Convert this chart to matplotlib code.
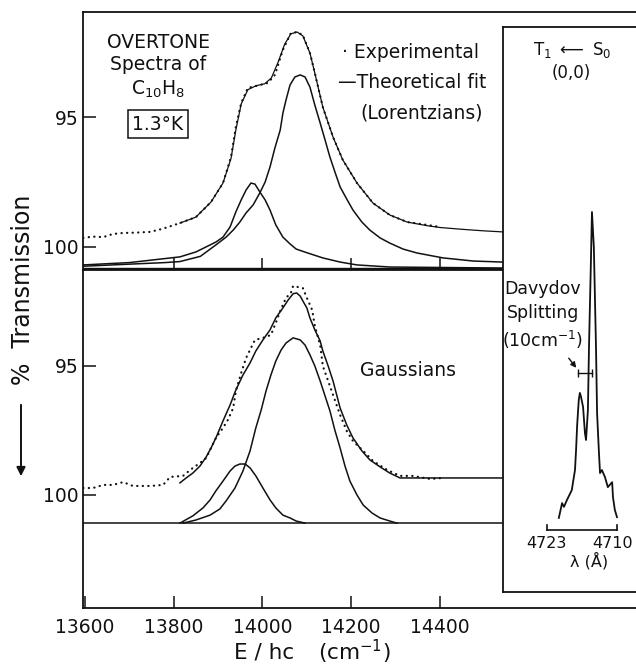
import matplotlib
matplotlib.use("Agg")
import matplotlib.pyplot as plt

plt.rcParams['font.family'] = ['DejaVu Sans']
plt.rcParams['mathtext.fontset'] = 'dejavusans'

INK = '#111111'

# ---------------- data ----------------
# x: E/hc in cm^-1, y: % transmission (axis inverted)
top_exp_x = [13596, 13618, 13641, 13663, 13686, 13710, 13746, 13775, 13814, 13850,
             13884, 13911, 13929, 13940, 13952, 13967, 13994, 14012, 14028, 14046,
             14064, 14078, 14091, 14107, 14118, 14136, 14159, 14181, 14213, 14249,
             14287, 14326, 14371, 14400]
top_exp_y = [99.65, 99.60, 99.62, 99.50, 99.46, 99.45, 99.42, 99.30, 99.08, 98.85,
             98.27, 97.54, 96.54, 95.38, 94.46, 93.88, 93.77, 93.69, 93.38, 92.42,
             91.77, 91.73, 91.85, 92.54, 93.31, 94.62, 95.77, 96.65, 97.54, 98.31,
             98.77, 99.04, 99.15, 99.23]

top_fit_x = [13814, 13850, 13884, 13911, 13929, 13940, 13952, 13967, 13985, 14005,
             14020, 14035, 14050, 14064, 14078, 14091, 14107, 14118, 14136, 14159,
             14181, 14213, 14249, 14287, 14326, 14371, 14400, 14450, 14500, 14542]
top_fit_y = [99.08, 98.85, 98.27, 97.54, 96.60, 95.50, 94.50, 93.95, 93.80, 93.72,
             93.50, 92.90, 92.20, 91.80, 91.73, 91.88, 92.54, 93.31, 94.62, 95.77,
             96.65, 97.54, 98.31, 98.77, 99.04, 99.18, 99.25, 99.32, 99.38, 99.42]

lor_big_x = [13596, 13700, 13780, 13814, 13860, 13895, 13918, 13934, 13949, 13963,
             13979, 13994, 14006, 14017, 14028, 14040, 14046, 14053, 14062, 14073,
             14085, 14096, 14107, 14118, 14130, 14141, 14152, 14164, 14175, 14191,
             14204, 14224, 14242, 14265, 14287, 14317, 14348, 14407, 14475, 14542]
lor_big_y = [100.74, 100.66, 100.60, 100.56, 100.36, 99.92, 99.62, 99.35, 99.04, 98.69,
             98.38, 97.92, 97.50, 96.92, 96.19, 95.50, 94.85, 94.35, 93.77, 93.46,
             93.38, 93.46, 93.85, 94.54, 95.23, 95.88, 96.54, 97.15, 97.69, 98.19,
             98.58, 99.04, 99.35, 99.65, 99.85, 100.08, 100.23, 100.42, 100.54, 100.58]

lor_small_x = [13596, 13700, 13814, 13850, 13882, 13895, 13911, 13927, 13940, 13952,
               13963, 13974, 13983, 13994, 14006, 14017, 14030, 14046, 14062, 14076,
               14100, 14136, 14175, 14213, 14287, 14542]
lor_small_y = [100.69, 100.60, 100.38, 100.19, 99.92, 99.81, 99.62, 99.23, 98.65, 98.19,
               97.81, 97.54, 97.58, 97.88, 98.19, 98.58, 99.15, 99.62, 99.88, 100.08,
               100.22, 100.42, 100.58, 100.69, 100.77, 100.81]
top_baseline = 100.81

bot_exp_x = [13596, 13618, 13641, 13663, 13686, 13708, 13747, 13776, 13792, 13821,
             13837, 13859, 13873, 13895, 13911, 13922, 13934, 13940, 13952, 13963,
             13983, 14001, 14019, 14030, 14040, 14053, 14064, 14069, 14091, 14100,
             14112, 14118, 14130, 14136, 14148, 14159, 14175, 14190, 14204, 14227,
             14249, 14281, 14310, 14339, 14378, 14407]
bot_exp_y = [99.73, 99.73, 99.61, 99.61, 99.50, 99.65, 99.65, 99.61, 99.30, 99.26,
             99.03, 98.76, 98.57, 97.79, 97.40, 97.09, 96.63, 95.97, 95.27, 94.69,
             93.99, 93.91, 93.80, 93.33, 92.87, 92.36, 92.17, 91.90, 91.98, 92.36,
             92.83, 93.45, 94.19, 95.00, 95.58, 96.12, 96.90, 97.52, 97.91, 98.29,
             98.68, 99.03, 99.26, 99.26, 99.38, 99.34]

bot_fit_x = [13814, 13828, 13843, 13859, 13873, 13884, 13895, 13911, 13927, 13940,
             13956, 13972, 13985, 14001, 14017, 14030, 14046, 14058, 14069, 14077,
             14085, 14091, 14100, 14107, 14118, 14130, 14136, 14148, 14159, 14175,
             14190, 14204, 14224, 14242, 14265, 14287, 14310, 14542]
bot_fit_y = [99.53, 99.34, 99.15, 98.88, 98.53, 98.18, 97.79, 97.13, 96.51, 95.93,
             95.35, 94.88, 94.42, 93.99, 93.60, 93.14, 92.75, 92.44, 92.20, 92.17,
             92.29, 92.48, 92.75, 93.14, 93.60, 94.03, 94.42, 95.00, 95.58, 96.63,
             97.29, 97.79, 98.29, 98.64, 98.91, 99.15, 99.34, 99.34]

gau_big_x = [13821, 13850, 13882, 13904, 13918, 13938, 13956, 13972, 13985, 13997,
             14008, 14019, 14030, 14042, 14053, 14069, 14085, 14096, 14107, 14118,
             14130, 14141, 14152, 14163, 14175, 14186, 14197, 14213, 14227, 14247,
             14265, 14287, 14303]
gau_big_y = [101.09, 100.97, 100.78, 100.54, 100.23, 99.73, 99.07, 98.29, 97.40, 96.71,
             95.97, 95.35, 94.81, 94.38, 94.11, 93.91, 93.99, 94.19, 94.57, 95.00,
             95.58, 96.16, 96.74, 97.48, 98.18, 98.88, 99.46, 100.00, 100.39, 100.70,
             100.89, 101.01, 101.09]

gau_small_x = [13814, 13843, 13866, 13882, 13895, 13911, 13927, 13938, 13949, 13961,
               13972, 13985, 14001, 14017, 14030, 14046, 14062, 14076, 14096]
gau_small_y = [101.09, 100.81, 100.50, 100.19, 99.84, 99.46, 99.07, 98.88, 98.80, 98.80,
               98.95, 99.26, 99.73, 100.19, 100.50, 100.78, 100.89, 101.01, 101.09]
bot_baseline = 101.1

# inset: T1 <- S0 (0,0) absorption, wavelength in Angstrom, relative intensity
ins_lam = [4720.8, 4720.2, 4719.85, 4719.3, 4718.4, 4717.8, 4717.6, 4717.4, 4717.1, 4716.9,
           4716.7, 4716.3, 4715.95, 4715.75, 4715.4, 4715.2, 4714.85, 4714.65, 4714.3, 4713.9,
           4713.7, 4713.35, 4713.15, 4712.8, 4712.25, 4711.7, 4710.9, 4710.75, 4710.4, 4710.0]
ins_int = [19.5, 23.4, 22.4, 24.2, 26.8, 32.1, 37.4, 43.9, 50.5, 52.4,
           51.5, 48.7, 41.8, 40.0, 47.9, 64.5, 86.6, 100.0, 90.8, 64.5,
           47.1, 36.6, 31.3, 32.1, 30.3, 27.6, 28.9, 25.0, 21.6, 19.7]
davydov_lam = [4717.2, 4714.65]
davydov_level = 57.6
scale_lam = [4723, 4710]
scale_level = 16.3

x_ticks = [13600, 13800, 14000, 14200, 14400]
y_ticks = [95, 100]

# ---------------- layout ----------------
W, H = 636, 668
fig = plt.figure(figsize=(W / 100, H / 100), dpi=100)


def rect(l, t, r, b):
    return [l / W, 1 - b / H, (r - l) / W, (b - t) / H]


def P(px, py):
    return (px / W, 1 - py / H)


ax_top = fig.add_axes(rect(83, 12, 680, 270))
ax_bot = fig.add_axes(rect(83, 270, 680, 608))
ax_in = fig.add_axes(rect(503, 27, 680, 592))

xlim = (13595.5, 14941)
for ax in (ax_top, ax_bot):
    ax.set_xlim(*xlim)
    ax.spines['right'].set_visible(False)
    for s in ax.spines.values():
        s.set_linewidth(1.3)
        s.set_color(INK)
    ax.tick_params(direction='in', length=9, width=1.1, colors=INK,
                   labelsize=13.5, top=False, right=False)
    ax.tick_params(axis='y', pad=3)
    ax.set_yticks(y_ticks)
    ax.set_yticklabels([str(v) for v in y_ticks])

ax_top.set_ylim(100.885, 90.96)
ax_bot.set_ylim(104.38, 91.28)

ax_top.set_xticks(x_ticks[1:])
ax_top.tick_params(axis='x', labelbottom=False)
ax_bot.set_xticks(x_ticks)
ax_bot.set_xticklabels([str(v) for v in x_ticks])
ax_bot.tick_params(axis='x', pad=7)

lw = 1.1
dot_style = dict(color=INK, lw=1.6, linestyle=(0, (0.1, 2.4)), dash_capstyle='round')
line_style = dict(color=INK, lw=lw, solid_joinstyle='round')

# top panel (Lorentzians)
ax_top.plot(top_fit_x, top_fit_y, color=INK, lw=0.9, solid_joinstyle='round')
ax_top.plot(top_exp_x, top_exp_y, **dot_style)
ax_top.plot(lor_big_x, lor_big_y, **line_style)
ax_top.plot(lor_small_x, lor_small_y, **line_style)
ax_top.axhline(top_baseline, color=INK, lw=1.0)

# bottom panel (Gaussians)
ax_bot.plot(bot_fit_x, bot_fit_y, **line_style)
ax_bot.plot(bot_exp_x, bot_exp_y, **dot_style)
ax_bot.plot(gau_big_x, gau_big_y, **line_style)
ax_bot.plot(gau_small_x, gau_small_y, **line_style)
ax_bot.axhline(bot_baseline, color=INK, lw=lw)

# inset
ax_in.set_zorder(5)
ax_in.set_facecolor('white')
ax_in.set_xlim(4731.17, 4698.3)
ax_in.set_ylim(0, 148.7)
ax_in.set_xticks([])
ax_in.set_yticks([])
ax_in.spines['right'].set_visible(False)
for s in ax_in.spines.values():
    s.set_linewidth(1.3)
    s.set_color(INK)
ax_in.plot(ins_lam, ins_int, color=INK, lw=1.3, solid_joinstyle='round')
ax_in.plot(davydov_lam, [davydov_level] * 2, color=INK, lw=1.0,
           marker='|', markersize=6, markeredgewidth=1.0)
ax_in.plot(scale_lam, [scale_level] * 2, color=INK, lw=1.2)
for lam in scale_lam:
    ax_in.plot([lam, lam], [scale_level, scale_level + 1.4], color=INK, lw=1.2)

# ---------------- text ----------------
fs = 13.5
fig.text(*P(158, 42), 'OVERTONE', ha='center', va='center', fontsize=fs, color=INK)
fig.text(*P(158, 64), 'Spectra of', ha='center', va='center', fontsize=fs, color=INK)
fig.text(*P(158, 89), r'C$_{10}$H$_8$', ha='center', va='center', fontsize=fs, color=INK)
fig.text(*P(158, 124), '1.3°K', ha='center', va='center', fontsize=fs, color=INK,
         bbox=dict(boxstyle='square,pad=0.25', fc='white', ec=INK, lw=1.1))

fig.text(*P(342, 52), '· Experimental', ha='left', va='center', fontsize=fs, color=INK)
fig.text(*P(338, 83), '—Theoretical fit', ha='left', va='center', fontsize=fs, color=INK)
fig.text(*P(422, 113), '(Lorentzians)', ha='center', va='center', fontsize=fs, color=INK)
fig.text(*P(408, 371), 'Gaussians', ha='center', va='center', fontsize=fs, color=INK)

fig.text(*P(572, 50), r'T$_1$ $\longleftarrow$ S$_0$', ha='center', va='center',
         fontsize=12, color=INK, zorder=10)
fig.text(*P(571, 73), '(0,0)', ha='center', va='center', fontsize=12, color=INK, zorder=10)
fig.text(*P(543, 289), 'Davydov', ha='center', va='center', fontsize=12.5, color=INK, zorder=10)
fig.text(*P(543, 313), 'Splitting', ha='center', va='center', fontsize=12.5, color=INK, zorder=10)
fig.text(*P(543, 340), r'(10cm$^{-1}$)', ha='center', va='center', fontsize=12.5, color=INK, zorder=10)
fig.text(*P(546, 543), '4723', ha='center', va='center', fontsize=11.5, color=INK, zorder=10)
fig.text(*P(613, 543), '4710', ha='center', va='center', fontsize=11.5, color=INK, zorder=10)
fig.text(*P(589, 561), 'λ (Å)', ha='center', va='center', fontsize=11.5, color=INK, zorder=10)

arr = matplotlib.patches.FancyArrowPatch(P(567, 356), P(578, 370), transform=fig.transFigure,
                                         arrowstyle='-|>', mutation_scale=8, lw=1.0,
                                         color=INK, zorder=11)
fig.patches.append(arr)

# axis labels
fig.text(*P(264, 652), 'E / hc', ha='center', va='center', fontsize=15.5, color=INK)
fig.text(*P(354, 652), r'(cm$^{-1}$)', ha='center', va='center', fontsize=15.5, color=INK)
fig.text(*P(23, 290), '%  Transmission', rotation=90, ha='center', va='center',
         fontsize=17, color=INK)
yarr = matplotlib.patches.FancyArrowPatch(P(21, 402), P(21, 479), transform=fig.transFigure,
                                          arrowstyle='-|>', mutation_scale=13, lw=1.4,
                                          color=INK)
fig.patches.append(yarr)

fig.savefig('out.png', dpi=100, facecolor='white')
